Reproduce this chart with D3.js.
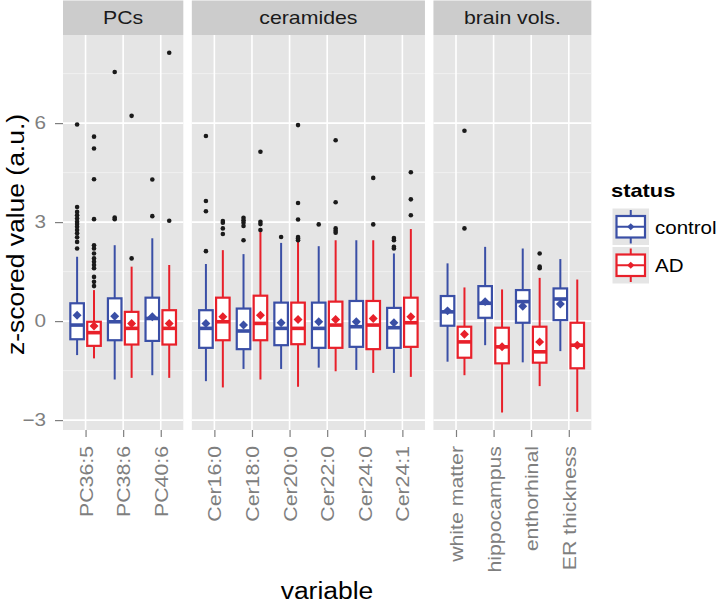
<!DOCTYPE html>
<html><head><meta charset="utf-8">
<script src="https://cdn.jsdelivr.net/npm/d3@7"></script>
<style>body{margin:0;background:#fff}svg{display:block}</style>
</head><body>
<svg id="chart" width="718" height="604"></svg>
<script>
// ---------------- data ----------------
const variables = ["PC36:5","PC38:6","PC40:6","Cer16:0","Cer18:0","Cer20:0","Cer22:0","Cer24:0","Cer24:1","white matter","hippocampus","enthorhinal","ER thickness"];
const panelNames = ["PCs","ceramides","brain vols."];
const panelOf = [0,0,0,1,1,1,1,1,1,2,2,2,2];
const statuses = ["control","AD"];
const yTicks = [-3,0,3,6];
const yMinor = [-1.5,1.5,4.5,7.5];

const ctrlLow  = [-1.03,-1.77,-1.64,-1.82,-1.45,-1.45,-1.41,-1.48,-1.57,-1.23,-0.73,-1.25,-0.91];
const ctrlQ1   = [-0.55,-0.58,-0.60,-0.81,-0.85,-0.73,-0.81,-0.78,-0.81,-0.14,0.10,-0.05,0.03];
const ctrlMed  = [-0.12,-0.02,0.08,-0.22,-0.30,-0.22,-0.22,-0.17,-0.20,0.28,0.54,0.59,0.67];
const ctrlQ3   = [0.54,0.69,0.71,0.33,0.38,0.56,0.56,0.61,0.40,0.76,1.06,0.94,0.99];
const ctrlHigh = [1.95,2.30,2.51,1.73,2.03,2.37,2.27,2.45,2.05,1.75,2.25,2.20,1.88];
const ctrlMean = [0.18,0.15,0.13,-0.07,-0.12,-0.05,-0.02,-0.02,-0.05,0.31,0.59,0.45,0.52];
const ctrlOut = [
  [5.96,3.46,3.31,3.21,3.11,3.01,2.94,2.86,2.76,2.66,2.54,2.40,2.20],
  [7.55,3.14,3.09],
  [4.29,3.18],
  [5.61,3.64,3.33,2.12],
  [3.13,3.06,2.98,2.88,2.45],
  [2.55],
  [2.93],
  [],
  [2.52,2.45,2.25,2.20],
  [],[],[],[]
];

const adLow  = [-1.13,-1.72,-1.72,-2.01,-1.77,-1.99,-1.52,-1.57,-1.69,-1.64,-2.77,-1.97,-2.75];
const adQ1   = [-0.75,-0.71,-0.71,-0.58,-0.58,-0.70,-0.81,-0.85,-0.78,-1.11,-1.28,-1.26,-1.43];
const adMed  = [-0.35,-0.22,-0.22,-0.02,-0.07,-0.22,-0.12,-0.12,-0.05,-0.63,-0.78,-0.93,-0.73];
const adQ3   = [-0.02,0.28,0.33,0.71,0.77,0.56,0.59,0.61,0.71,-0.17,-0.20,-0.17,-0.05];
const adHigh = [0.94,1.65,1.70,2.15,2.71,2.43,2.45,2.45,2.79,1.02,0.96,1.31,1.26];
const adMean = [-0.15,-0.07,-0.07,0.13,0.18,0.05,0.05,0.08,0.13,-0.40,-0.78,-0.63,-0.73];
const adOut = [
  [5.59,5.23,4.30,3.09,2.30,2.20,2.05,1.90,1.80,1.70,1.60,1.34,1.19,1.06],
  [6.22,1.90],
  [8.13,3.04],
  [3.03,2.98,2.81,2.64],
  [5.13,3.01,2.94,2.76],
  [5.94,3.58,3.08,2.55,2.50,2.45],
  [5.48,3.60,2.81,2.74,2.68],
  [4.34,2.93],
  [4.51,3.69,3.21],
  [5.77,2.81],
  [],
  [2.05,1.65,1.60],
  []
];

// ---------------- layout / style ----------------
const FONT = "'Liberation Sans', Arial, sans-serif";
const K = 1.15;                 // horizontal glyph stretch
const colors = {control:"#3A4FA6", AD:"#E8202A"};
const panelTop = 35, panelBottom = 430, stripTop = 0.5;
const left0 = 63, gap = 8.5, unit = 37.6;

const svg = d3.select("#chart");
const y = d3.scaleLinear().domain([-3.3, 8.67]).range([panelBottom, panelTop]);

function stretch(sel, k){
  const f = k || K;
  sel.each(function(){
    const L = this.getComputedTextLength();
    this.setAttribute("textLength", L*f);
    this.setAttribute("lengthAdjust","spacingAndGlyphs");
  });
}

const series = {
  control:{low:ctrlLow,q1:ctrlQ1,med:ctrlMed,q3:ctrlQ3,high:ctrlHigh,mean:ctrlMean,out:ctrlOut},
  AD:{low:adLow,q1:adQ1,med:adMed,q3:adQ3,high:adHigh,mean:adMean,out:adOut}
};

const dodge = d3.scalePoint().domain(statuses).range([-0.225*unit, 0.225*unit]);
const bw = 0.36*unit;
const diamond = d3.symbol().type(d3.symbolSquare).size(40);

let xStart = left0;
panelNames.forEach((pname, p) => {
  const vars = variables.filter((v,i)=>panelOf[i]===p);
  const w = (vars.length + 0.2)*unit;
  const x = d3.scalePoint().domain(vars).range([xStart, xStart+w]).padding(0.6);
  const g = svg.append("g");

  // background
  g.append("rect").attr("x",xStart).attr("y",panelTop).attr("width",w).attr("height",panelBottom-panelTop).attr("fill","#E5E5E5");
  // strip
  g.append("rect").attr("x",xStart).attr("y",stripTop).attr("width",w).attr("height",panelTop-stripTop).attr("fill","#CCCCCC");
  g.append("text").attr("x",xStart+w/2).attr("y",(stripTop+panelTop)/2).attr("dy","0.36em")
    .attr("text-anchor","middle").attr("font-family",FONT).attr("font-size",18.5).attr("fill","#1A1A1A")
    .text(pname).call(stretch);

  // grid
  g.selectAll(".ymin").data(yMinor).join("line")
    .attr("x1",xStart).attr("x2",xStart+w).attr("y1",d=>y(d)).attr("y2",d=>y(d))
    .attr("stroke","#F2F2F2").attr("stroke-width",0.8);
  g.selectAll(".ymaj").data(yTicks).join("line")
    .attr("x1",xStart).attr("x2",xStart+w).attr("y1",d=>y(d)).attr("y2",d=>y(d))
    .attr("stroke","#FFFFFF").attr("stroke-width",1.6);
  g.selectAll(".xmaj").data(vars).join("line")
    .attr("x1",d=>x(d)).attr("x2",d=>x(d)).attr("y1",panelTop).attr("y2",panelBottom)
    .attr("stroke","#FFFFFF").attr("stroke-width",1.6);

  // boxes
  vars.forEach(v => {
    const i = variables.indexOf(v);
    statuses.forEach(s => {
      const d = series[s], c = colors[s];
      const cx = x(v) + dodge(s);
      const bg = g.append("g");
      bg.append("line").attr("x1",cx).attr("x2",cx).attr("y1",y(d.high[i])).attr("y2",y(d.q3[i]))
        .attr("stroke",c).attr("stroke-width",2);
      bg.append("line").attr("x1",cx).attr("x2",cx).attr("y1",y(d.q1[i])).attr("y2",y(d.low[i]))
        .attr("stroke",c).attr("stroke-width",2);
      bg.append("rect").attr("x",cx-bw/2).attr("width",bw).attr("y",y(d.q3[i])).attr("height",y(d.q1[i])-y(d.q3[i]))
        .attr("fill","#fff").attr("stroke",c).attr("stroke-width",2.2);
      bg.append("line").attr("x1",cx-bw/2).attr("x2",cx+bw/2).attr("y1",y(d.med[i])).attr("y2",y(d.med[i]))
        .attr("stroke",c).attr("stroke-width",3.6);
      bg.selectAll("circle").data(d.out[i]).join("circle")
        .attr("cx",cx).attr("cy",o=>y(o)).attr("r",2.3).attr("fill","#1A1A1A");
      bg.append("path").attr("d",diamond).attr("transform",`translate(${cx},${y(d.mean[i])}) rotate(45)`).attr("fill",c);
    });
  });

  // x axis
  const ax = svg.append("g").attr("transform",`translate(0,${panelBottom})`)
    .call(d3.axisBottom(x).tickSize(7).tickPadding(0));
  ax.select(".domain").remove();
  ax.selectAll(".tick line").attr("stroke","#7F7F7F").attr("stroke-width",1.2);
  ax.selectAll(".tick text")
    .attr("font-family",FONT).attr("font-size",18.5).attr("fill","#7F7F7F")
    .attr("text-anchor","end").attr("transform","translate(0,16) rotate(-90)")
    .attr("x",0).attr("y",0).attr("dy","0.35em")
    .call(stretch);

  xStart += w + gap;
});

// y axis
const ay = svg.append("g").attr("transform",`translate(${left0},0)`)
  .call(d3.axisLeft(y).tickValues(yTicks).tickSize(8).tickPadding(9));
ay.select(".domain").remove();
ay.selectAll(".tick line").attr("stroke","#7F7F7F").attr("stroke-width",1.2);
ay.selectAll(".tick text").attr("font-family",FONT).attr("font-size",18).attr("fill","#7F7F7F").call(stretch);

// axis titles
svg.append("text").attr("transform",`translate(24,${(panelTop+panelBottom)/2+2}) rotate(-90)`)
  .attr("text-anchor","middle").attr("font-family",FONT).attr("font-size",23).attr("fill","#000")
  .text("z-scored value (a.u.)").call(stretch);
svg.append("text").attr("x",327).attr("y",599)
  .attr("text-anchor","middle").attr("font-family",FONT).attr("font-size",23).attr("fill","#000")
  .text("variable").call(stretch);

// legend
const lg = svg.append("g");
lg.append("text").attr("x",611).attr("y",197).attr("font-family",FONT).attr("font-size",19).attr("font-weight","bold")
  .attr("fill","#000").text("status").call(stretch);
statuses.forEach((s,k) => {
  const ky = 208 + k*38.5, kx = 612, ks = 37.5, c = colors[s];
  const cx = kx + ks/2, cy = ky + ks/2;
  lg.append("rect").attr("x",kx).attr("y",ky).attr("width",ks).attr("height",ks).attr("fill","#E5E5E5").attr("stroke","#fff").attr("stroke-width",1);
  lg.append("line").attr("x1",cx).attr("x2",cx).attr("y1",ky+2).attr("y2",ky+ks-2).attr("stroke",c).attr("stroke-width",2);
  lg.append("rect").attr("x",kx+4.5).attr("y",ky+8).attr("width",ks-9).attr("height",ks-16).attr("fill","#fff").attr("stroke",c).attr("stroke-width",2.2);
  lg.append("line").attr("x1",kx+4.5).attr("x2",kx+ks-4.5).attr("y1",cy).attr("y2",cy).attr("stroke",c).attr("stroke-width",2);
  lg.append("path").attr("d",d3.symbol().type(d3.symbolSquare).size(26)).attr("transform",`translate(${cx},${cy}) rotate(45)`).attr("fill",c);
  lg.append("text").attr("x",655).attr("y",cy).attr("dy","0.36em").attr("font-family",FONT).attr("font-size",19)
    .attr("fill","#000").text(s).call(stretch, 1.08);
});
</script>
</body></html>
